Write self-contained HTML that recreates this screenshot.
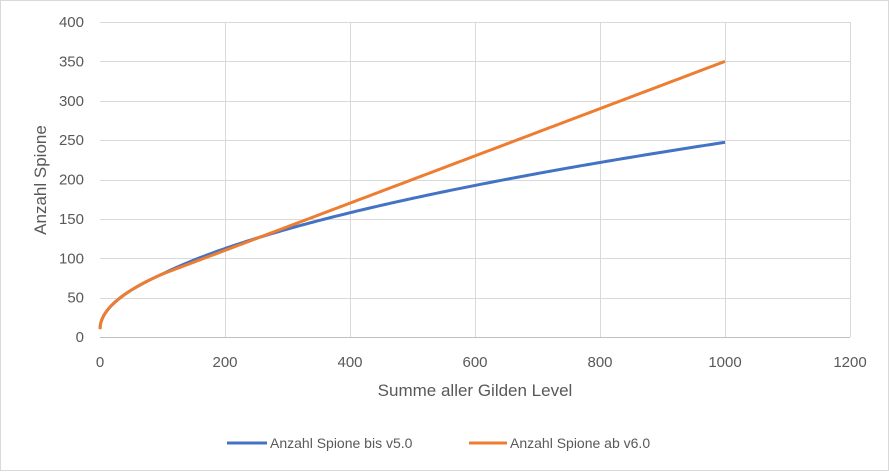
<!DOCTYPE html>
<html><head><meta charset="utf-8"><style>
html,body{margin:0;padding:0;background:#fff}
svg{display:block;font-family:"Liberation Sans",sans-serif}
text{fill:#595959;font-size:15px}
</style></head><body>
<svg id="s" width="889" height="472" viewBox="0 0 889 472">
<rect x="0.5" y="0.5" width="888" height="470" fill="#fff" stroke="#d9d9d9"/>
<g id="grid" stroke="#d9d9d9" stroke-width="1"></g>
<g id="lbl"></g>
<line x1="100" y1="337.5" x2="850" y2="337.5" stroke="#bfbfbf"/>
<path id="pb" fill="none" stroke="#4472c4" stroke-width="3"/>
<path id="po" fill="none" stroke="#ed7d31" stroke-width="3"/>
<text x="475" y="396" text-anchor="middle" style="font-size:17px">Summe aller Gilden Level</text>
<text transform="translate(46,180) rotate(-90)" text-anchor="middle" style="font-size:17px">Anzahl Spione</text>
<line x1="227" y1="443" x2="267" y2="443" stroke="#4472c4" stroke-width="3"/>
<text x="270" y="448" style="font-size:14px">Anzahl Spione bis v5.0</text>
<line x1="469" y1="443" x2="507" y2="443" stroke="#ed7d31" stroke-width="3"/>
<text x="510" y="448" style="font-size:14px">Anzahl Spione ab v6.0</text>
</svg>
<script>
var X=function(v){return 100+v*0.625},Y=function(v){return 337-v*0.7875};
var g=document.getElementById('grid'),l=document.getElementById('lbl'),h='',t='';
for(var i=0;i<=8;i++){var y=Y(i*50);if(i>0)h+='<line x1="100" x2="850" y1="'+(Math.round(y)+.5)+'" y2="'+(Math.round(y)+.5)+'"/>';t+='<text x="84" y="'+(y+5)+'" text-anchor="end">'+(i*50)+'</text>';}
for(var j=0;j<=6;j++){var x=X(j*200);if(j>0)h+='<line y1="22" y2="337" x1="'+(Math.round(x)+.5)+'" x2="'+(Math.round(x)+.5)+'"/>';t+='<text x="'+x+'" y="367" text-anchor="middle">'+(j*200)+'</text>';}
g.innerHTML=h;l.innerHTML=t;
function f1(x){return x<100?10+7*Math.sqrt(x):80*Math.pow(x/100,0.49);}
function f2(x){return x<100?10+7*Math.sqrt(x):80+0.3*(x-100);}
function p(f){var d='';for(var x=0;x<=1000;x+=(x<20?0.5:5)){d+=(d?'L':'M')+X(x).toFixed(2)+','+Y(f(x)).toFixed(2);}return d;}
document.getElementById('pb').setAttribute('d',p(f1));
document.getElementById('po').setAttribute('d',p(f2));
</script>
</body></html>
